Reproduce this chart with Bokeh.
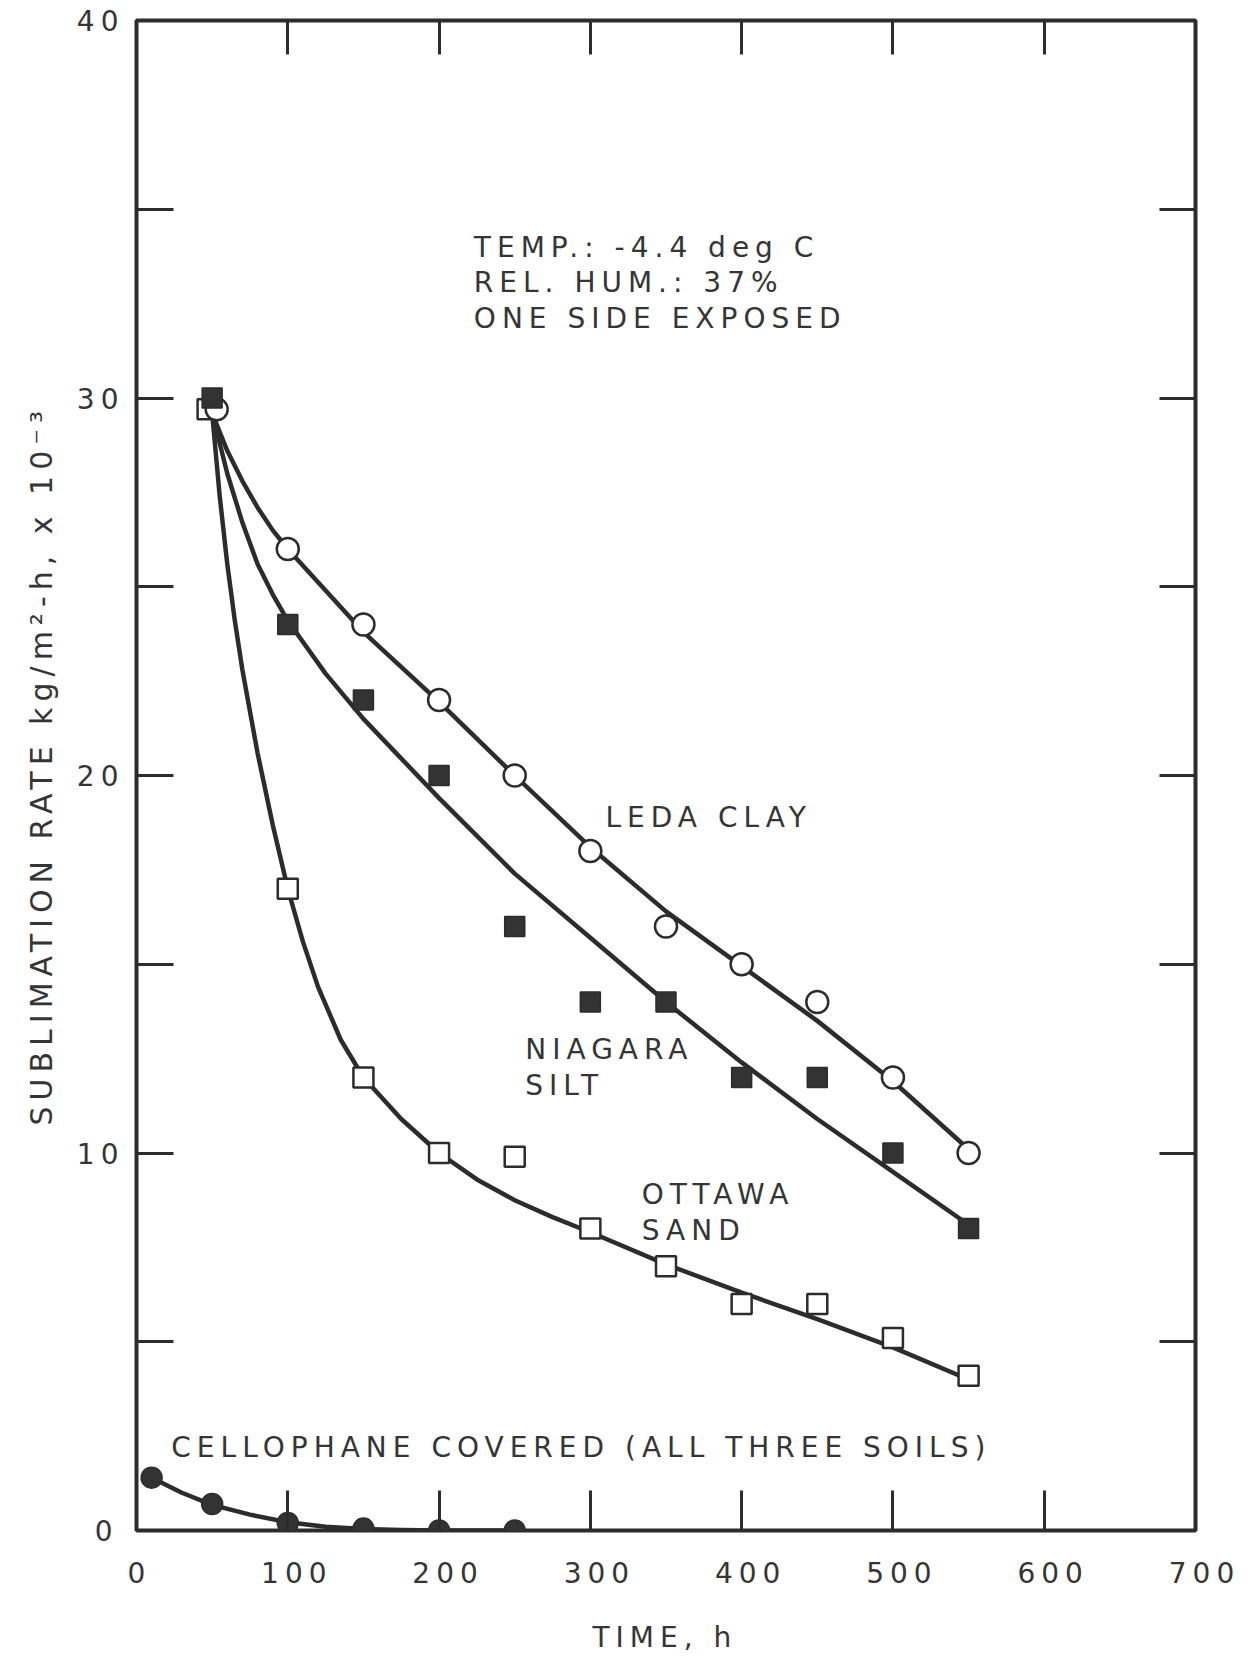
from bokeh.plotting import figure
from bokeh.models import LinearAxis, FixedTicker, Range1d, ColumnDataSource, Title
from bokeh.core.properties import value
from bokeh.embed import file_html
from bokeh.resources import INLINE

# ---- data ----
leda_x = [53, 100, 150, 200, 250, 300, 350, 400, 450, 500, 550]
leda_y = [29.7, 26.0, 24.0, 22.0, 20.0, 18.0, 16.0, 15.0, 14.0, 12.0, 10.0]

silt_x = [50, 100, 150, 200, 250, 300, 350, 400, 450, 500, 550]
silt_y = [30.0, 24.0, 22.0, 20.0, 16.0, 14.0, 14.0, 12.0, 12.0, 10.0, 8.0]

sand_x = [47, 100, 150, 200, 250, 300, 350, 400, 450, 500, 550]
sand_y = [29.7, 17.0, 12.0, 10.0, 9.9, 8.0, 7.0, 6.0, 6.0, 5.1, 4.1]

cello_x = [10, 50, 100, 150, 200, 250]
cello_y = [1.4, 0.7, 0.2, 0.05, 0.0, 0.0]

# hand-drawn fitted curves
leda_curve_x = [50, 55, 60, 70, 80, 90, 100, 125, 150, 200, 250, 300, 350, 400, 450, 500, 550]
leda_curve_y = [29.6, 29.1, 28.6, 27.8, 27.1, 26.5, 26.0, 24.9, 23.8, 21.95, 20.0, 18.1, 16.4, 14.95, 13.5, 11.9, 10.1]

silt_curve_x = [50, 55, 60, 70, 80, 90, 100, 125, 150, 200, 250, 300, 350, 400, 450, 500, 550]
silt_curve_y = [29.6, 28.8, 28.0, 26.7, 25.6, 24.8, 24.1, 22.7, 21.5, 19.4, 17.4, 15.7, 14.0, 12.4, 10.9, 9.5, 8.1]

sand_curve_x = [50, 55, 60, 65, 70, 80, 90, 100, 110, 120, 135, 150, 175, 200, 225, 250, 275, 300, 350, 400, 450, 500, 550]
sand_curve_y = [29.6, 27.4, 25.6, 24.1, 22.8, 20.6, 18.7, 17.0, 15.6, 14.4, 13.0, 12.0, 10.9, 10.0, 9.3, 8.75, 8.3, 7.9, 7.05, 6.3, 5.6, 4.85, 4.0]

cello_curve_x = [10, 30, 50, 75, 100, 125, 150, 175, 200, 250]
cello_curve_y = [1.4, 1.0, 0.68, 0.42, 0.22, 0.1, 0.04, 0.01, 0.0, 0.0]

x_label_ticks = [0, 100, 200, 300, 400, 500, 600, 700]
x_inner_ticks = [100, 200, 300, 400, 500, 600]
y_label_ticks = [0, 10, 20, 30, 40]
y_half_ticks = [5, 15, 25, 35]
y_all_inner = [5, 10, 15, 20, 25, 30, 35]

note_lines = ["TEMP.: -4.4 deg C", "REL. HUM.: 37%", "ONE SIDE EXPOSED"]
note_x = [223, 223, 223]
note_y = [34.0, 33.05, 32.1]

series_labels = ["LEDA CLAY", "NIAGARA", "SILT", "OTTAWA", "SAND", "CELLOPHANE COVERED (ALL THREE SOILS)"]
series_label_x = [310, 257, 257, 334, 334, 23]
series_label_y = [18.9, 12.75, 11.8, 8.9, 7.95, 2.2]

x_title = "TIME, h"
y_title = "SUBLIMATION RATE kg/m\u00b2-h, x 10\u207b\u00b3"

# ---- styling ----
INK = "#2c2c2c"
TXT = "#353535"
FONT = "DejaVu Sans"

p = figure(frame_width=1059, frame_height=1510,
           x_range=Range1d(0, 700), y_range=Range1d(0, 40),
           output_backend="svg", toolbar_location=None,
           min_border_left=136, min_border_top=20, min_border_right=48, min_border_bottom=60,
           background_fill_color="white", border_fill_color="white",
           outline_line_color=INK, outline_line_width=4)
p.styles = {"letter-spacing": "6px"}
p.xgrid.visible = False
p.ygrid.visible = False

def style_axis(ax, tick_len):
    ax.axis_line_color = None
    ax.major_tick_in = tick_len
    ax.major_tick_out = 0
    ax.minor_tick_in = tick_len
    ax.minor_tick_out = 0
    ax.major_tick_line_color = INK
    ax.major_tick_line_width = 3
    ax.minor_tick_line_color = INK
    ax.minor_tick_line_width = 3
    ax.major_label_text_font = FONT
    ax.major_label_text_color = TXT
    ax.major_label_text_font_size = "28px"

xa = p.xaxis[0]
xa.ticker = FixedTicker(ticks=x_label_ticks, minor_ticks=[])
style_axis(xa, 40)
xa.major_label_standoff = 31

ya = p.yaxis[0]
ya.ticker = FixedTicker(ticks=y_label_ticks, minor_ticks=y_half_ticks)
style_axis(ya, 37)
ya.major_label_standoff = 24

top = LinearAxis(ticker=FixedTicker(ticks=[], minor_ticks=x_inner_ticks))
style_axis(top, 34)
top.major_label_standoff = 0
p.add_layout(top, "above")

right = LinearAxis(ticker=FixedTicker(ticks=[], minor_ticks=y_all_inner))
style_axis(right, 36)
right.major_label_standoff = 0
p.add_layout(right, "right")

# axis titles: letter-spaced text, so anchored at their start
p.add_layout(Title(text=x_title, align="left", offset=456, vertical_align="top", standoff=70,
                   text_font=FONT, text_font_size="28px", text_font_style="normal",
                   text_color=TXT), "below")
p.add_layout(Title(text=y_title, align="left", offset=405, vertical_align="bottom", standoff=30,
                   text_font=FONT, text_font_size="30px", text_font_style="normal",
                   text_color=TXT), "left")

# curves
for cx, cy in [(leda_curve_x, leda_curve_y), (silt_curve_x, silt_curve_y),
               (sand_curve_x, sand_curve_y), (cello_curve_x, cello_curve_y)]:
    p.line(cx, cy, line_color=INK, line_width=4.5, line_join="round", line_cap="round")

# markers
p.scatter(sand_x, sand_y, marker="square", size=20, fill_color="white", line_color=INK, line_width=2.5)
p.scatter(leda_x, leda_y, marker="circle", size=22, fill_color="white", line_color=INK, line_width=2.5)
p.scatter(silt_x, silt_y, marker="square", size=20, fill_color="#333333", line_color=INK, line_width=1.5)
p.scatter(cello_x, cello_y, marker="circle", size=21, fill_color="#333333", line_color=INK, line_width=1.5)

# annotations
note_src = ColumnDataSource(dict(x=note_x, y=note_y, t=note_lines))
p.text(x="x", y="y", text="t", source=note_src, text_font=value(FONT),
       text_font_size=value("28px"), text_color=TXT, text_align="left", text_baseline="middle")

lab_src = ColumnDataSource(dict(x=series_label_x, y=series_label_y, t=series_labels))
p.text(x="x", y="y", text="t", source=lab_src, text_font=value(FONT),
       text_font_size=value("28px"), text_color=TXT, text_align="left", text_baseline="middle")

open("out.html", "w").write(file_html(p, INLINE))
